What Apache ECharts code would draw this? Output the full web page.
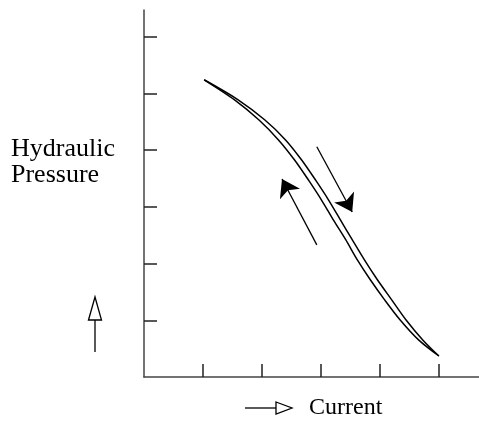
<!DOCTYPE html>
<html>
<head>
<meta charset="utf-8">
<script src="https://cdn.jsdelivr.net/npm/echarts@6/dist/echarts.min.js"></script>
<style>
html,body{margin:0;padding:0;background:#fff;}
#chart{width:479px;height:438px;}
</style>
</head>
<body>
<div id="chart"></div>
<script>
// Data (arbitrary units: tick spacing = 1)
var pressure       = [5.24, 4.89, 4.53, 4.18, 3.83, 3.47, 3.12, 2.77, 2.42, 2.06, 1.71, 1.36, 1.01, 0.65, 0.37];
var currentFalling = [1.02, 1.59, 2.05, 2.40, 2.67, 2.91, 3.13, 3.33, 3.53, 3.74, 3.96, 4.20, 4.44, 4.73, 5.00]; // right branch (arrow down)
var currentRising  = [1.02, 1.53, 1.95, 2.28, 2.55, 2.79, 3.01, 3.21, 3.42, 3.62, 3.84, 4.08, 4.34, 4.66, 5.00]; // left branch (arrow up)
var xTicks = [1, 2, 3, 4, 5];
var yTicks = [1, 2, 3, 4, 5, 6];
var arrowDown = [[2.93, 4.06], [3.53, 2.91]];
var arrowUp   = [[2.93, 2.33], [2.34, 3.49]];
var yLabelLines = ['Hydraulic', 'Pressure'];
var xLabel = 'Current';

function pairs(xs, ys) { return xs.map(function (x, i) { return [x, ys[i]]; }); }

var chart = echarts.init(document.getElementById('chart'), null, {renderer: 'canvas'});
var serif = '"Liberation Serif", "DejaVu Serif", serif';
chart.setOption({
  animation: false,
  backgroundColor: '#fff',
  grid: {left: 144, right: 0, top: 10, bottom: 61},
  xAxis: {
    type: 'value', min: 0, max: 5.68, interval: 1,
    axisLine: {show: true, lineStyle: {color: '#444', width: 1.5}},
    axisTick: {show: true, inside: true, length: 13, customValues: xTicks, lineStyle: {color: '#222', width: 1.5}},
    axisLabel: {show: false},
    splitLine: {show: false}
  },
  yAxis: {
    type: 'value', min: 0, max: 6.47, interval: 1,
    axisLine: {show: true, lineStyle: {color: '#444', width: 1.5}},
    axisTick: {show: true, inside: true, length: 13, customValues: yTicks, lineStyle: {color: '#222', width: 1.5}},
    axisLabel: {show: false},
    splitLine: {show: false}
  },
  series: [
    {type: 'line', data: pairs(currentFalling, pressure), smooth: 0.3, showSymbol: false,
     lineStyle: {color: '#000', width: 1.5}},
    {type: 'line', data: pairs(currentRising, pressure), smooth: 0.3, showSymbol: false,
     lineStyle: {color: '#000', width: 1.5}},
    {type: 'lines', coordinateSystem: 'cartesian2d',
     symbol: ['none', 'arrow'], symbolSize: [9, 17],
     lineStyle: {color: '#000', width: 1.3, opacity: 1},
     itemStyle: {color: '#000'},
     data: [{coords: arrowDown}, {coords: arrowUp}]}
  ],
  graphic: [
    {type: 'text', left: 11, top: 136, style: {text: yLabelLines.join('\n'), font: '26px ' + serif, fill: '#000', lineHeight: 26}},
    {type: 'polyline', shape: {points: [[95, 352], [95, 320]]}, style: {stroke: '#000', lineWidth: 1.3, fill: null}},
    {type: 'polygon', shape: {points: [[88.5, 320], [95, 297], [101.5, 320]]}, style: {stroke: '#000', lineWidth: 1.3, fill: '#fff'}},
    {type: 'polyline', shape: {points: [[245, 408], [276, 408]]}, style: {stroke: '#000', lineWidth: 1.3, fill: null}},
    {type: 'polygon', shape: {points: [[276, 402], [292, 408], [276, 414]]}, style: {stroke: '#000', lineWidth: 1.3, fill: '#fff'}},
    {type: 'text', left: 309, top: 396, style: {text: xLabel, font: '24px ' + serif, fill: '#000'}}
  ]
});
</script>
</body>
</html>
